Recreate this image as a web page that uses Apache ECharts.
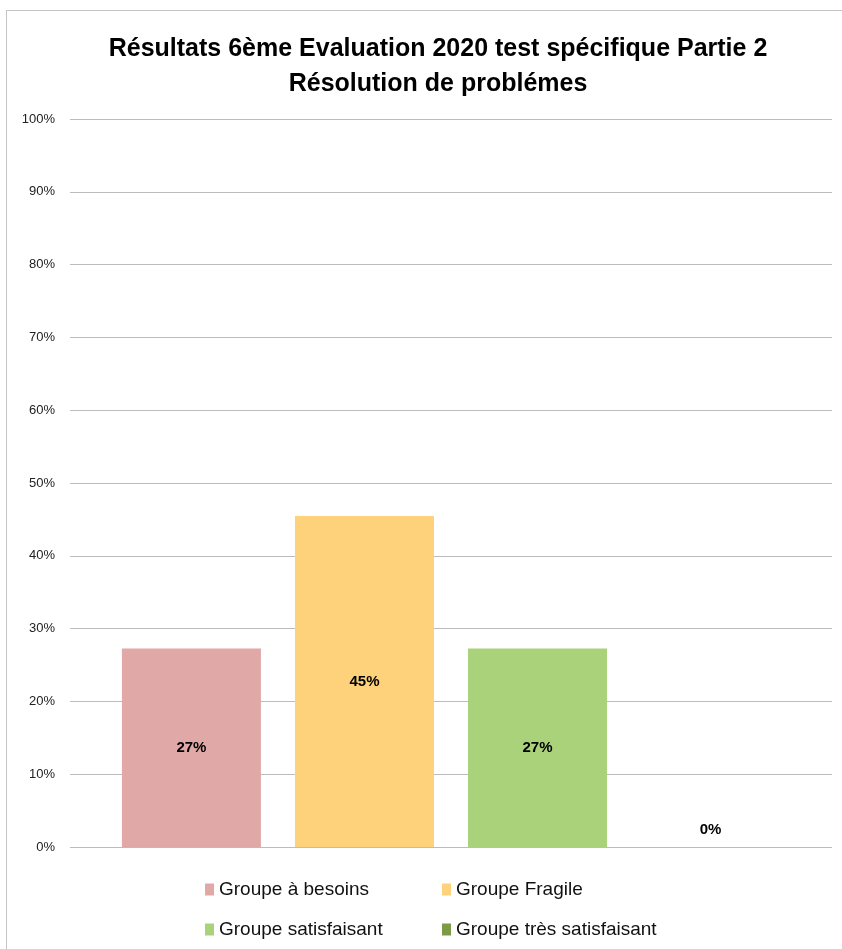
<!DOCTYPE html>
<html>
<head>
<meta charset="utf-8">
<script src="https://cdn.jsdelivr.net/npm/echarts@6/dist/echarts.min.js"></script>
<style>
    html, body { margin: 0; padding: 0; background: #fff; }
    #frame {
        position: absolute; left: 6px; top: 10px; width: 900px; height: 1000px;
        border-left: 1px solid #c4c4c4; border-top: 1px solid #c4c4c4;
    }
    #chart { position: absolute; left: 0; top: 0; width: 842px; height: 949px; }
</style>
</head>
<body>
<div id="frame"></div>
<div id="chart"></div>
<script>
// data
const categories = [''];
const seriesNames = ['Groupe à besoins', 'Groupe Fragile', 'Groupe satisfaisant', 'Groupe très satisfaisant'];
const seriesValues = [27.27, 45.45, 27.27, 0];
const seriesColors = ['#e0a8a6', '#fdd27a', '#a9d27a', '#7d9b47'];
const yTicks = [0, 10, 20, 30, 40, 50, 60, 70, 80, 90, 100];

const chart = echarts.init(document.getElementById('chart'));
const font = 'Liberation Sans';

const series = seriesNames.map((name, i) => ({
    name: name,
    type: 'bar',
    data: [seriesValues[i]],
    barWidth: 139,
    barGap: '24.5%',
    itemStyle: { color: seriesColors[i] },
    label: {
        show: true,
        position: seriesValues[i] === 0 ? 'top' : 'inside',
        distance: 10,
        formatter: p => Math.round(p.value) + '%',
        color: '#000',
        fontWeight: 'bold',
        fontSize: 15,
        fontFamily: font
    }
}));

const legendCommon = {
    orient: 'vertical',
    top: 875,
    itemGap: 21,
    itemWidth: 9,
    itemHeight: 12,
    icon: 'rect',
    textStyle: { fontSize: 19, color: '#111', fontFamily: font }
};

chart.setOption({
    animation: false,
    title: {
        text: 'Résultats 6ème Evaluation 2020 test spécifique Partie 2\nRésolution de problémes',
        left: 433,
        top: 27,
        textAlign: 'center',
        textStyle: { fontSize: 25, fontWeight: 'bold', color: '#000', fontFamily: font, lineHeight: 35 }
    },
    grid: { left: 70, right: 10, top: 119, bottom: 102 },
    xAxis: {
        type: 'category',
        data: categories,
        axisLine: { show: false },
        axisTick: { show: false },
        axisLabel: { show: false }
    },
    yAxis: {
        type: 'value',
        min: 0,
        max: 100,
        interval: 10,
        axisLine: { show: false },
        axisTick: { show: false },
        axisLabel: {
            formatter: v => yTicks.includes(v) ? v + '%' : '',
            color: '#222',
            fontSize: 13,
            fontFamily: font,
            margin: 15
        },
        splitLine: { lineStyle: { color: '#bcbcbc', width: 1 } }
    },
    legend: [
        Object.assign({ data: [seriesNames[0], seriesNames[2]], left: 200 }, legendCommon),
        Object.assign({ data: [seriesNames[1], seriesNames[3]], left: 437 }, legendCommon)
    ],
    series: series
});
</script>
</body>
</html>
